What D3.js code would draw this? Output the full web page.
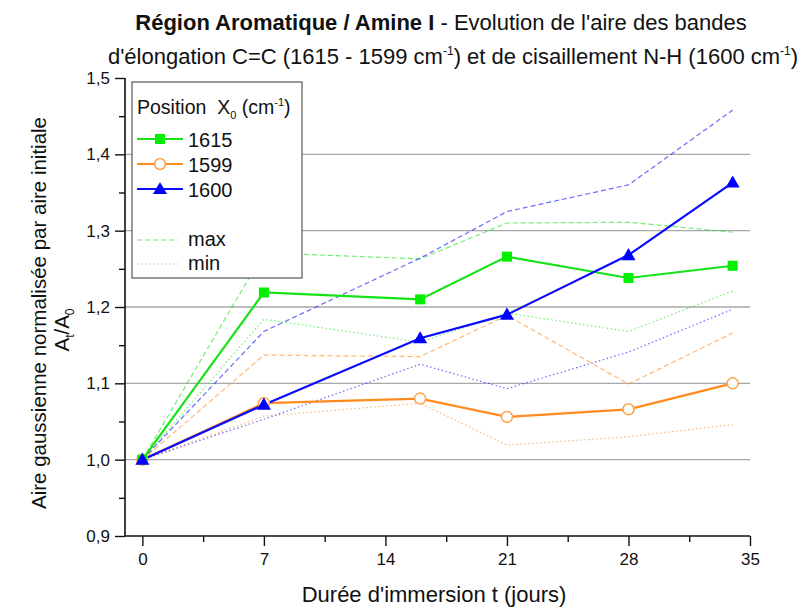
<!DOCTYPE html>
<html><head><meta charset="utf-8">
<script src="https://cdn.jsdelivr.net/npm/d3@7"></script>
<style>
html,body{margin:0;padding:0;background:#fff;}
svg text{font-family:"Liberation Sans",Arial,sans-serif;fill:#111;white-space:pre;}
</style></head>
<body><svg id="c" width="803" height="608"></svg>
<script>
const days = [0, 7, 16, 21, 28, 34];
const v1615 = [1.000, 1.219, 1.210, 1.266, 1.238, 1.254];
const v1599 = [1.000, 1.074, 1.080, 1.056, 1.066, 1.100];
const v1600 = [1.000, 1.072, 1.159, 1.190, 1.268, 1.363];
const max1615 = [1.000, 1.271, 1.263, 1.310, 1.311, 1.298];
const min1615 = [1.000, 1.184, 1.154, 1.192, 1.168, 1.221];
const max1599 = [1.000, 1.137, 1.135, 1.189, 1.099, 1.166];
const min1599 = [1.000, 1.057, 1.074, 1.019, 1.030, 1.046];
const max1600 = [1.000, 1.168, 1.264, 1.325, 1.360, 1.458];
const min1600 = [1.000, 1.053, 1.125, 1.093, 1.141, 1.197];
const seriesNames = ["1615", "1599", "1600"];
const xTicks = [0, 7, 14, 21, 28, 35];
const xMinor = [3.5, 10.5, 17.5, 24.5, 31.5];
const yTicks = [0.9, 1.0, 1.1, 1.2, 1.3, 1.4, 1.5];
const yMinor = [0.95, 1.05, 1.15, 1.25, 1.35, 1.45];
const gridVals = [1.0, 1.1, 1.2, 1.3, 1.4];

const colors = {"1615": "#16e316", "1599": "#ff8a1e", "1600": "#0a0aff"};
const svg = d3.select("#c");
const x = d3.scaleLinear().domain([-1, 35]).range([125, 750]);
const y = d3.scaleLinear().domain([0.9, 1.5]).range([536, 78]);
const fmt = d => d.toFixed(1).replace(".", ",");

// grid
svg.append("g").selectAll("line").data(gridVals).join("line")
  .attr("x1", x(-1)).attr("x2", x(35)).attr("y1", d => y(d)).attr("y2", d => y(d))
  .attr("stroke", "#a8a8a8").attr("stroke-width", 1.4);

// axes
const gx = svg.append("g").attr("transform", `translate(0,${y(0.9)})`)
  .call(d3.axisBottom(x).tickValues(xTicks).tickSize(10).tickPadding(7).tickFormat(d3.format("d")));
const gxm = svg.append("g").attr("transform", `translate(0,${y(0.9)})`)
  .call(d3.axisBottom(x).tickValues(xMinor).tickSize(6).tickFormat(""));
const gy = svg.append("g").attr("transform", `translate(${x(-1)},0)`)
  .call(d3.axisLeft(y).tickValues(yTicks).tickSize(10).tickPadding(5).tickFormat(fmt));
const gym = svg.append("g").attr("transform", `translate(${x(-1)},0)`)
  .call(d3.axisLeft(y).tickValues(yMinor).tickSize(6).tickFormat(""));
[gx, gxm, gy, gym].forEach(g => {
  g.select(".domain").attr("stroke", "#111").attr("stroke-width", 1.6);
  g.selectAll(".tick line").attr("stroke", "#111").attr("stroke-width", 1.4);
  g.selectAll(".tick text").attr("font-size", 17).attr("fill", "#222")
    .attr("font-family", '"Liberation Sans",Arial,sans-serif');
});
gx.select(".domain").attr("d", `M${x(-1)},0H${x(35)}`);
gy.select(".domain").attr("d", `M0,${y(0.9)}V${y(1.5)}`);
gxm.select(".domain").remove(); gym.select(".domain").remove();

const line = d3.line().x((d, i) => x(days[i])).y(d => y(d));
const envs = [
  [max1615, "1615", "5,3"], [min1615, "1615", "1.5,2.5"],
  [max1599, "1599", "5,3"], [min1599, "1599", "1.5,2.5"],
  [max1600, "1600", "5,3"], [min1600, "1600", "1.5,2.5"]
];
const gEnv = svg.append("g");
envs.forEach(([vals, s, dash]) => {
  gEnv.append("path").attr("d", line(vals)).attr("fill", "none")
    .attr("stroke", colors[s]).attr("stroke-opacity", 0.6).attr("stroke-width", 1.2)
    .attr("stroke-dasharray", dash);
});

const main = {"1615": v1615, "1599": v1599, "1600": v1600};
const gMain = svg.append("g");
seriesNames.forEach(s => {
  gMain.append("path").attr("d", line(main[s])).attr("fill", "none")
    .attr("stroke", colors[s]).attr("stroke-width", 2.2);
});
const sq = d3.symbol().type(d3.symbolSquare).size(100);
const tri = d3.symbol().type(d3.symbolTriangle).size(85);
function marker(g, s, cx, cy) {
  if (s === "1615") {
    g.append("path").attr("d", sq()).attr("transform", `translate(${cx},${cy})`)
      .attr("fill", "#00f000");
  } else if (s === "1599") {
    g.append("circle").attr("cx", cx).attr("cy", cy).attr("r", 5.5)
      .attr("fill", "#fff").attr("stroke", "#ffa24a").attr("stroke-width", 1.5);
  } else {
    g.append("path").attr("d", tri()).attr("transform", `translate(${cx},${cy + 1})`)
      .attr("fill", "#0000ff");
  }
}
const gMk = svg.append("g");
["1599", "1615", "1600"].forEach(s => {
  main[s].forEach((v, i) => marker(gMk, s, x(days[i]), y(v)));
});

// legend
const lg = svg.append("g");
lg.append("rect").attr("x", 132).attr("y", 82).attr("width", 170).attr("height", 196)
  .attr("fill", "#fff").attr("stroke", "#555").attr("stroke-width", 1.2);
const lt = lg.append("text").attr("x", 137).attr("y", 114).attr("font-size", 19.5);
lt.append("tspan").text("Position  X");
lt.append("tspan").attr("font-size", 11).attr("dy", 5).text("0");
lt.append("tspan").attr("dy", -5).text(" (cm");
lt.append("tspan").attr("font-size", 11).attr("dy", -8).text("-1");
lt.append("tspan").attr("dy", 8).text(")");
seriesNames.forEach((s, i) => {
  const cy = 139 + i * 25;
  lg.append("line").attr("x1", 137).attr("x2", 183).attr("y1", cy).attr("y2", cy)
    .attr("stroke", colors[s]).attr("stroke-width", 2.2);
  marker(lg, s, 160, cy);
  lg.append("text").attr("x", 188).attr("y", cy + 7.5).attr("font-size", 20).text(s);
});
[["max", "5,3", 240], ["min", "1.5,2.5", 264]].forEach(([t, dash, cy]) => {
  lg.append("line").attr("x1", 137).attr("x2", 178).attr("y1", cy).attr("y2", cy)
    .attr("stroke", colors["1615"]).attr("stroke-opacity", 0.6).attr("stroke-width", 1.2)
    .attr("stroke-dasharray", dash);
  lg.append("text").attr("x", 188).attr("y", cy + 6).attr("font-size", 20).text(t);
});

// titles
const t1 = svg.append("text").attr("x", 441).attr("y", 30).attr("text-anchor", "middle").attr("font-size", 22);
t1.append("tspan").attr("font-weight", "bold").text("Région Aromatique / Amine I");
t1.append("tspan").text(" - Evolution de l'aire des bandes");
const t2 = svg.append("text").attr("x", 453).attr("y", 64).attr("text-anchor", "middle").attr("font-size", 22);
t2.append("tspan").text("d'élongation C=C (1615 - 1599 cm");
t2.append("tspan").attr("font-size", 12).attr("dy", -9).text("-1");
t2.append("tspan").attr("dy", 9).text(") et de cisaillement N-H (1600 cm");
t2.append("tspan").attr("font-size", 12).attr("dy", -9).text("-1");
t2.append("tspan").attr("dy", 9).text(")");

svg.append("text").attr("x", 434).attr("y", 602).attr("text-anchor", "middle")
  .attr("font-size", 22).text("Durée d'immersion t (jours)");

const yl = svg.append("g").attr("transform", "translate(46,313) rotate(-90)");
yl.append("text").attr("text-anchor", "middle").attr("font-size", 20.5)
  .text("Aire gaussienne normalisée par aire initiale");
const yl2 = svg.append("g").attr("transform", "translate(69,330) rotate(-90)");
const a = yl2.append("text").attr("text-anchor", "middle").attr("font-size", 20.5);
a.append("tspan").text("A");
a.append("tspan").attr("font-size", 12).attr("dy", 5).text("t");
a.append("tspan").attr("dy", -5).text("/A");
a.append("tspan").attr("font-size", 12).attr("dy", 5).text("0");
</script></body></html>
